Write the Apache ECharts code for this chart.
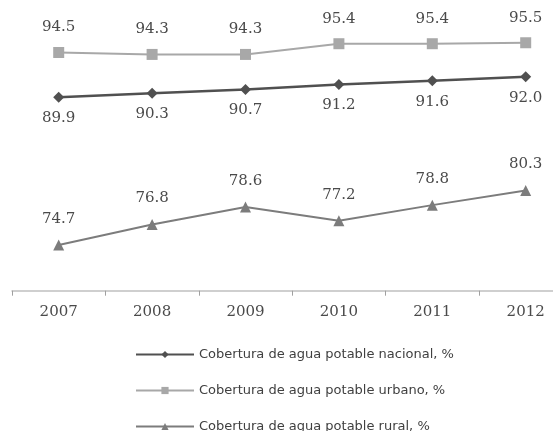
<!DOCTYPE html>
<html>
<head>
<meta charset="utf-8">
<script src="https://cdn.jsdelivr.net/npm/echarts@6/dist/echarts.min.js"></script>
<style>html,body{margin:0;padding:0;background:#fff}#c{width:553px;height:431px}</style>
</head>
<body>
<div id="c"></div>
<script>
const years = ['2007', '2008', '2009', '2010', '2011', '2012'];
const nacional = [89.9, 90.3, 90.7, 91.2, 91.6, 92.0];
const urbano = [94.5, 94.3, 94.3, 95.4, 95.4, 95.5];
const rural = [74.7, 76.8, 78.6, 77.2, 78.8, 80.3];
const seriesNames = [
  'Cobertura de agua potable nacional, %',
  'Cobertura de agua potable urbano, %',
  'Cobertura de agua potable rural, %'
];

const labelFont = { fontFamily: 'DejaVu Serif', fontSize: 15, color: '#4a4a4a' };
const legendTops = [355, 391, 427];
const chart = echarts.init(document.getElementById('c'), null, { renderer: 'canvas' });
chart.setOption({
  animation: false,
  backgroundColor: '#fff',
  grid: { left: 12, width: 560.4, top: -1, height: 291.7, containLabel: false, outerBoundsMode: 'none' },
  xAxis: {
    type: 'category',
    data: years,
    boundaryGap: true,
    axisLine: { lineStyle: { color: '#c0c0c0', width: 1.5 } },
    axisTick: { show: true, length: 5, lineStyle: { color: '#a0a0a0' } },
    axisLabel: { margin: 14, fontFamily: 'DejaVu Serif', fontSize: 15, color: '#4a4a4a' }
  },
  yAxis: { type: 'value', min: 70, max: 100, show: false, splitLine: { show: false } },
  legend: seriesNames.map((n, i) => ({
    orient: 'vertical',
    left: 135,
    top: legendTops[i] - 7,
    padding: 0,
    itemWidth: 58,
    itemHeight: 9,
    textStyle: { fontFamily: 'DejaVu Sans', fontSize: 13, color: '#404040' },
    data: [n]
  })),
  series: [
    {
      name: seriesNames[0], type: 'line', data: nacional,
      symbol: 'diamond', symbolSize: 11,
      lineStyle: { color: '#505050', width: 2.5 },
      itemStyle: { color: '#505050' },
      label: { show: true, position: 'bottom', distance: 8, formatter: p => p.value.toFixed(1), ...labelFont }
    },
    {
      name: seriesNames[1], type: 'line', data: urbano,
      symbol: 'rect', symbolSize: 11,
      lineStyle: { color: '#a8a8a8', width: 2 },
      itemStyle: { color: '#a8a8a8' },
      label: { show: true, position: 'top', distance: 12, formatter: p => p.value.toFixed(1), ...labelFont }
    },
    {
      name: seriesNames[2], type: 'line', data: rural,
      symbol: 'triangle', symbolSize: 11,
      lineStyle: { color: '#7c7c7c', width: 2 },
      itemStyle: { color: '#7c7c7c' },
      label: { show: true, position: 'top', distance: 13, formatter: p => p.value.toFixed(1), ...labelFont }
    }
  ]
});
</script>
</body>
</html>
